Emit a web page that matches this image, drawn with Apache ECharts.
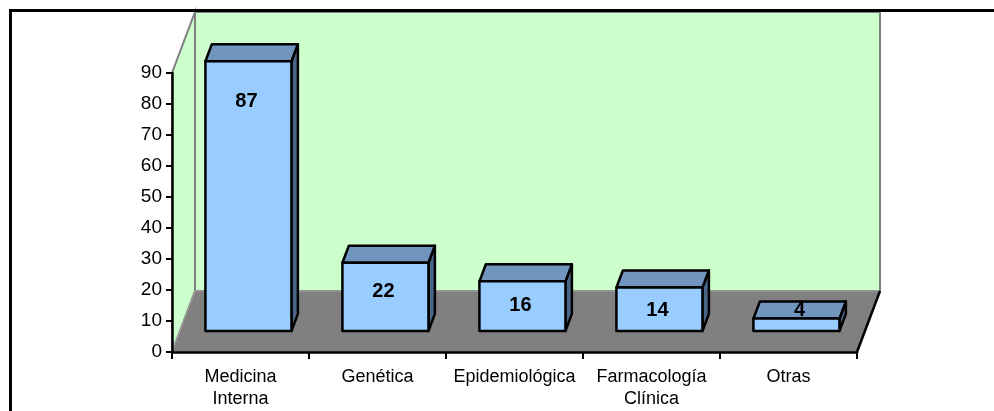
<!DOCTYPE html>
<html>
<head>
<meta charset="utf-8">
<script src="https://cdn.jsdelivr.net/npm/echarts@6/dist/echarts.min.js"></script>
<style>
  html, body { margin: 0; padding: 0; background: #fff; }
  #chart { width: 994px; height: 411px; }
</style>
</head>
<body>
<div id="chart"></div>
<script>
// datos
const categories = ["Medicina\nInterna", "Genética", "Epidemiológica", "Farmacología\nClínica", "Otras"];
const values = [87, 22, 16, 14, 4];
const yMin = 0;
const yMax = 90;
const yStep = 10;

// profundidad del efecto 3D (px)
const DX = 23;
const DY = 61;
const FONT = '"Liberation Sans", Arial, sans-serif';

const chart = echarts.init(document.getElementById("chart"));

// paredes y suelo
function renderWalls(params, api) {
  const cs = params.coordSys;
  const L = cs.x, R = cs.x + cs.width, T = cs.y, B = cs.y + cs.height;
  return {
    type: "group",
    children: [
      {
        type: "rect",
        shape: { x: L + DX, y: T - DY, width: R - L, height: B - T },
        style: { fill: "#CCFFCC", stroke: "#808080", lineWidth: 2 }
      },
      {
        type: "polygon",
        shape: { points: [[L, B], [L + DX, B - DY], [L + DX, T - DY], [L, T]] },
        style: { fill: "#CCFFCC", stroke: "#808080", lineWidth: 2 }
      },
      {
        type: "polygon",
        shape: { points: [[L, B], [R, B], [R + DX, B - DY], [L + DX, B - DY]] },
        style: { fill: "#808080", stroke: "#999999", lineWidth: 1.5 }
      },
      {
        type: "line",
        shape: { x1: R, y1: B, x2: R + DX, y2: B - DY },
        style: { stroke: "#000", lineWidth: 2.5 }
      }
    ]
  };
}

// barras 3D
function renderBar(params, api) {
  const i = api.value(0);
  const v = api.value(1);
  const base = api.coord([i, 0]);
  const top = api.coord([i, v]);
  const band = api.size([1, 0])[0];
  const w = band * 0.628;
  const f0 = 0.345, f1 = 0.625;
  const xL = base[0] - w / 2 + DX * f0;
  const xR = xL + w;
  const yB = base[1] - DY * f0;
  const yT = top[1] - DY * f0;
  const bdx = DX * (f1 - f0);
  const bdy = DY * (f1 - f0);
  const h = yB - yT;
  const edge = { stroke: "#000", lineWidth: 2.5, lineJoin: "round" };
  let ly, lx;
  if (h >= 20) {
    ly = yT + Math.min(40, 12 + 0.25 * h);
    lx = (xL + xR) / 2 - 2;
  } else {
    ly = yT - bdy / 2;
    lx = (xL + xR) / 2 + bdx / 2;
  }
  return {
    type: "group",
    children: [
      {
        type: "polygon",
        shape: { points: [[xR, yT], [xR + bdx, yT - bdy], [xR + bdx, yB - bdy], [xR, yB]] },
        style: Object.assign({ fill: "#4A6688" }, edge)
      },
      {
        type: "polygon",
        shape: { points: [[xL, yT], [xL + bdx, yT - bdy], [xR + bdx, yT - bdy], [xR, yT]] },
        style: Object.assign({ fill: "#7096C0" }, edge)
      },
      {
        type: "rect",
        shape: { x: xL, y: yT, width: w, height: h },
        style: Object.assign({ fill: "#99CCFF" }, edge)
      },
      {
        type: "text",
        x: lx,
        y: ly,
        style: {
          text: String(v),
          fill: "#000",
          font: "bold 20px " + FONT,
          align: "center",
          verticalAlign: "middle"
        }
      }
    ]
  };
}

const option = {
  backgroundColor: "#fff",
  animation: false,
  grid: { left: 172, right: 137, top: 73, bottom: 59 },
  graphic: [
    {
      type: "rect",
      silent: true,
      shape: { x: 10.5, y: 10.5, width: 1200, height: 1200 },
      style: { fill: null, stroke: "#000", lineWidth: 3 }
    }
  ],
  xAxis: {
    type: "category",
    data: categories,
    axisLine: { lineStyle: { color: "#000", width: 2.5 } },
    axisTick: { show: true, length: 7, lineStyle: { color: "#000", width: 2 } },
    axisLabel: {
      color: "#000",
      fontSize: 18,
      lineHeight: 22,
      fontFamily: FONT,
      margin: 14,
      interval: 0
    },
    splitLine: { show: false }
  },
  yAxis: {
    type: "value",
    min: yMin,
    max: yMax,
    interval: yStep,
    axisLine: { show: true, lineStyle: { color: "#000", width: 2.5 } },
    axisTick: { show: true, length: 6, lineStyle: { color: "#000", width: 2 } },
    axisLabel: { color: "#000", fontSize: 19, fontFamily: FONT, margin: 10 },
    splitLine: { show: false }
  },
  series: [
    {
      type: "custom",
      z: -1,
      silent: true,
      renderItem: renderWalls,
      data: [[0, 0]]
    },
    {
      type: "custom",
      z: 5,
      renderItem: renderBar,
      data: values.map((v, i) => [i, v])
    }
  ]
};

chart.setOption(option);
window.addEventListener("resize", chart.resize);
</script>
</body>
</html>
